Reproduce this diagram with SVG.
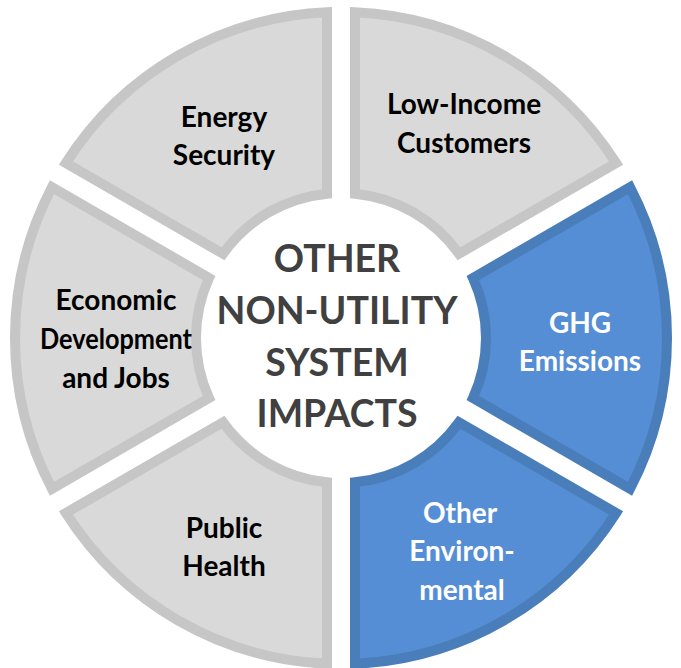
<svg xmlns="http://www.w3.org/2000/svg" width="681" height="668" viewBox="0 0 681 668">
<style>
.seg-g{fill:#d9d9d9;stroke:#c6c6c6;stroke-width:10;stroke-linejoin:miter}
.seg-b{fill:#558ed5;stroke:#4a7ebb;stroke-width:10;stroke-linejoin:miter}
.lbl{font-family:Lato,"Liberation Sans",sans-serif;font-weight:bold;font-size:28px;text-anchor:middle;fill:#000}
.lblw{fill:#fff}
.ctr{font-family:Lato,"Liberation Sans",sans-serif;font-weight:bold;font-size:37.5px;text-anchor:middle;fill:#404040}
</style>
<rect width="681" height="668" fill="#fff"/>
<g id="energy-security">
<path class="seg-g" d="M327,12.3 A326,326 0 0 0 65.93,163.03 L223.02,253.72 A145,145 0 0 1 327,193.68 Z"/>
<text class="lbl" x="224" y="127">Energy</text>
<text class="lbl" x="224" y="165">Security</text>
</g>
<g id="low-income">
<path class="seg-g" d="M616.07,163.03 A326,326 0 0 0 355,12.3 L355,193.68 A145,145 0 0 1 458.98,253.72 Z"/>
<text class="lbl" x="464" y="114">Low-Income</text>
<text class="lbl" x="464" y="153">Customers</text>
</g>
<g id="ghg">
<path class="seg-b" d="M630.07,488.73 A326,326 0 0 0 630.07,187.27 L472.98,277.96 A145,145 0 0 1 472.98,398.04 Z"/>
<text class="lbl lblw" x="580" y="333">GHG</text>
<text class="lbl lblw" x="580" y="371">Emissions</text>
</g>
<g id="other-environmental">
<path class="seg-b" d="M355,663.7 A326,326 0 0 0 616.07,512.97 L458.98,422.28 A145,145 0 0 1 355,482.32 Z"/>
<text class="lbl lblw" x="460" y="523">Other</text>
<text class="lbl lblw" x="462" y="561">Environ-</text>
<text class="lbl lblw" x="462" y="600">mental</text>
</g>
<g id="public-health">
<path class="seg-g" d="M65.93,512.97 A326,326 0 0 0 327,663.7 L327,482.32 A145,145 0 0 1 223.02,422.28 Z"/>
<text class="lbl" x="224" y="538">Public</text>
<text class="lbl" x="224" y="576">Health</text>
</g>
<g id="economic-development">
<path class="seg-g" d="M51.93,187.27 A326,326 0 0 0 51.93,488.73 L209.02,398.04 A145,145 0 0 1 209.02,277.96 Z"/>
<text class="lbl" x="116" y="310">Economic</text>
<text class="lbl" x="116" y="349" textLength="152" lengthAdjust="spacingAndGlyphs">Development</text>
<text class="lbl" x="116" y="388">and Jobs</text>
</g>
<g id="center">
<text class="ctr" x="337" y="272">OTHER</text>
<text class="ctr" x="337" y="324">NON-UTILITY</text>
<text class="ctr" x="337" y="376">SYSTEM</text>
<text class="ctr" x="337" y="427">IMPACTS</text>
</g>
<g id="connectors"/>
</svg>
